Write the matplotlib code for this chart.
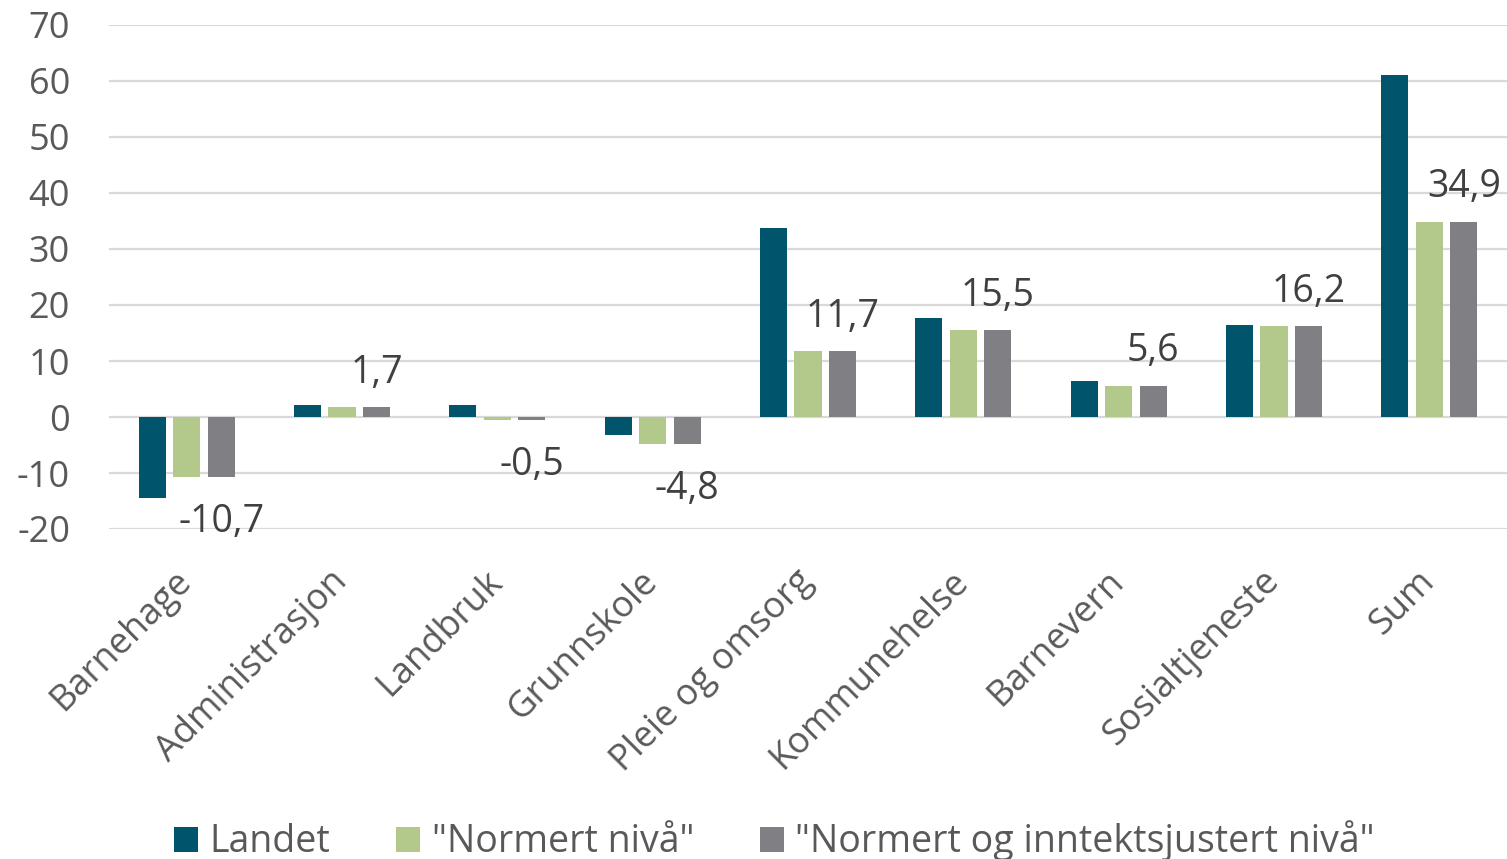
import matplotlib.pyplot as plt
import numpy as np

plt.rcParams['font.family'] = ['Open Sans', 'DejaVu Sans']
plt.rcParams['axes.unicode_minus'] = False

# Data
categories = ['Barnehage', 'Administrasjon', 'Landbruk', 'Grunnskole', 'Pleie og omsorg',
              'Kommunehelse', 'Barnevern', 'Sosialtjeneste', 'Sum']
landet = [-14.5, 2.2, 2.2, -3.2, 33.8, 17.7, 6.4, 16.5, 61.1]
normert = [-10.7, 1.7, -0.5, -4.8, 11.7, 15.5, 5.6, 16.2, 34.9]
inntekt = [-10.7, 1.7, -0.5, -4.8, 11.7, 15.5, 5.6, 16.2, 34.9]
series_names = ['Landet', '"Normert nivå"', '"Normert og inntektsjustert nivå"']
colors = ['#00546B', '#B3C98C', '#807F84']

fig = plt.figure(figsize=(15.07, 8.59), dpi=100)
ax = fig.add_axes([109 / 1507, 1 - 529 / 859, (1507 - 109) / 1507, (529 - 25) / 859])

x = np.arange(len(categories))
width = 0.174
step = 0.222
for i, (vals, name, c) in enumerate(zip([landet, normert, inntekt], series_names, colors)):
    bars = ax.bar(x + (i - 1) * step, vals, width, color=c, label=name, zorder=3)
    if i == 2:
        txt = [f'{v:.1f}'.replace('.', ',') for v in vals]
        pos = [t if v >= 0 else '' for t, v in zip(txt, vals)]
        neg = [t if v < 0 else '' for t, v in zip(txt, vals)]
        ax.bar_label(bars, labels=pos, padding=11, fontsize=27, color='#404040')
        ax.bar_label(bars, labels=neg, padding=19, fontsize=27, color='#404040')

ax.set_ylim(-20, 70)
ax.set_xlim(-0.5, len(categories) - 0.5)
ax.set_yticks(range(-20, 71, 10))
ax.grid(axis='y', color='#D9D9D9', linewidth=1.6, zorder=0)
for s in ax.spines.values():
    s.set_visible(False)
ax.tick_params(axis='both', length=0, labelsize=26, labelcolor='#595959')
ax.tick_params(axis='y', pad=28)
ax.set_xticks(x)
ax.set_xticklabels(categories, rotation=45, ha='right', va='center', rotation_mode='anchor')
ax.tick_params(axis='x', pad=34)

fig.legend(loc='lower center', bbox_to_anchor=(0.514, -0.042), ncol=3, frameon=False,
           fontsize=27, handlelength=0.65, handleheight=0.65, handletextpad=0.3,
           columnspacing=1.75, labelcolor='#595959')

fig.savefig('out.png', dpi=100)
